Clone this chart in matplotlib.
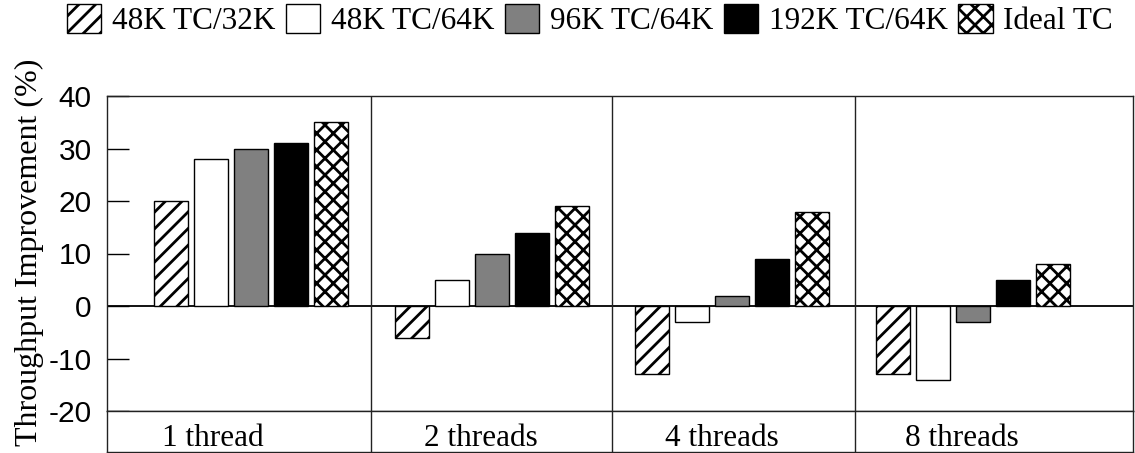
import matplotlib
matplotlib.use("Agg")
import matplotlib.pyplot as plt
import numpy as np

groups = ["1 thread", "2 threads", "4 threads", "8 threads"]
series_labels = ["48K TC/32K", "48K TC/64K", "96K TC/64K", "192K TC/64K", "Ideal TC"]
tc48_32 = [20, -6, -13, -13]
tc48_64 = [28, 5, -3, -14]
tc96_64 = [30, 10, 2, -3]
tc192_64 = [31, 14, 9, 5]
ideal_tc = [35, 19, 18, 8]
yticks = [-20, -10, 0, 10, 20, 30, 40]

series = [tc48_32, tc48_64, tc96_64, tc192_64, ideal_tc]
faces = ["white", "white", "#808080", "black", "white"]
hatches = ["//", None, None, None, "xx"]

plt.rcParams["hatch.linewidth"] = 2.0
SERIF = ["Liberation Serif", "DejaVu Serif"]
SANS = ["Liberation Sans", "DejaVu Sans"]
FS = 22.5

W, H = 1135, 453
fig = plt.figure(figsize=(W / 100, H / 100), dpi=100)

ax = fig.add_axes([107 / W, (H - 411) / H, (1133 - 107) / W, (411 - 96) / H])
axb = fig.add_axes([107 / W, (H - 452) / H, (1133 - 107) / W, (452 - 411) / H])

xlim = (-0.598, 3.665)
x = np.arange(len(groups))
bw = 0.1413
step = 0.1662

ax.axhline(0, color="black", lw=1.3, zorder=1)
handles = []
for i, (vals, fc, ht, lab) in enumerate(zip(series, faces, hatches, series_labels)):
    b = ax.bar(x + (i - 2) * step, vals, width=bw, color=fc, edgecolor="black",
               hatch=ht, linewidth=1.0, label=lab, zorder=2)
    for p in b.patches:
        if hasattr(p, "set_hatch_linewidth"):
            p.set_hatch_linewidth(2.0)
    handles.append(b)

ax.set_xlim(*xlim)
ax.set_ylim(-20, 40)
ax.set_yticks(yticks)
ax.set_yticklabels([str(t) for t in yticks], fontfamily=SANS, fontsize=21.5)
ax.tick_params(axis="y", direction="in", length=16, width=1.0, pad=11)
ax.set_xticks([])
for s in ax.spines.values():
    s.set_linewidth(1.0)
    s.set_color("#222222")

dividers = [0.5, 1.5, 2.51]
for d in dividers:
    ax.axvline(d, color="#222222", lw=1.0, zorder=3)
    axb.axvline(d, color="#222222", lw=1.0)

axb.set_xlim(*xlim)
axb.set_ylim(0, 1)
axb.set_xticks([])
axb.set_yticks([])
for s in axb.spines.values():
    s.set_linewidth(1.0)
    s.set_color("#222222")
label_offsets = [-0.158, -0.046, -0.042, -0.046]
for xi, g, off in zip(x, groups, label_offsets):
    axb.text(xi + off, 0.15, g, ha="center", va="baseline",
             fontfamily=SERIF, fontsize=FS)

fig.text(29 / W, (H - 252) / H, "Throughput Improvement (%)", rotation=90,
         ha="center", va="center", fontfamily=SERIF, fontsize=23)

fig.legend(handles=handles, labels=series_labels, loc="center",
           bbox_to_anchor=(590 / W, 1 - 20 / H), ncol=5, frameon=False,
           prop={"family": SERIF, "size": FS}, handlelength=1.1,
           handleheight=1.05, handletextpad=0.33, columnspacing=0.35,
           borderpad=0.0, borderaxespad=0.0)

fig.savefig("out.png", dpi=100)
